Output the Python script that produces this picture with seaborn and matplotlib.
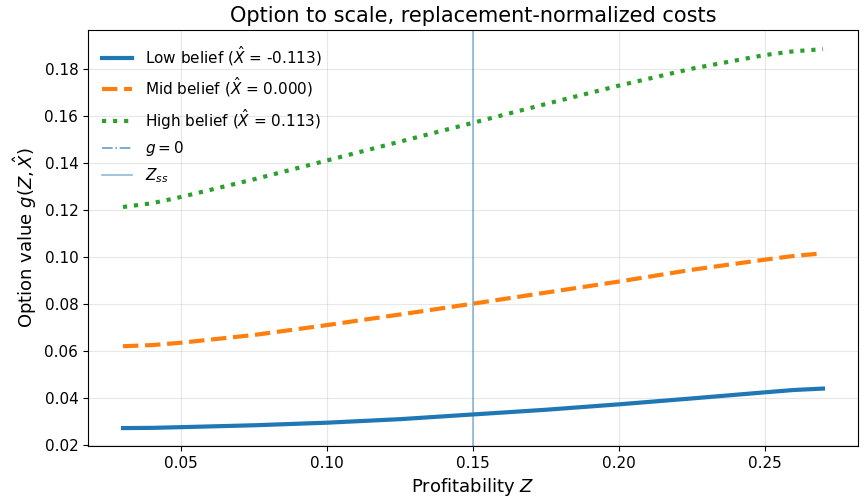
import matplotlib
matplotlib.use("Agg")
import matplotlib.pyplot as plt
import numpy as np
import pandas as pd
import seaborn as sns

# profitability grid
z = [0.03, 0.04, 0.05, 0.075, 0.10, 0.125, 0.15, 0.175, 0.20, 0.225, 0.25, 0.26, 0.27]
# option value for each belief
g_low = [0.0272, 0.0273, 0.0276, 0.0284, 0.0295, 0.0310, 0.0330, 0.0350, 0.0373, 0.0398, 0.0424, 0.0434, 0.0440]
g_mid = [0.0620, 0.0625, 0.0635, 0.0668, 0.0710, 0.0755, 0.0801, 0.0848, 0.0895, 0.0945, 0.0988, 0.1004, 0.1015]
g_high = [0.1212, 0.1228, 0.1255, 0.1330, 0.1410, 0.1490, 0.1570, 0.1650, 0.1728, 0.1800, 0.1858, 0.1874, 0.1883]
labels = [r"Low belief ($\hat{X}$ = -0.113)",
          r"Mid belief ($\hat{X}$ = 0.000)",
          r"High belief ($\hat{X}$ = 0.113)"]
z_ss = 0.15

plt.rcParams['font.family'] = ['DejaVu Sans']
plt.rcParams['xtick.labelsize'] = 11
plt.rcParams['ytick.labelsize'] = 11

fig, ax = plt.subplots(figsize=(8.67, 4.98), dpi=100)

styles = ["-", "--", ":"]
cols = ["#1f77b4", "#ff7f0e", "#2ca02c"]
for vals, lab, ls, c in zip([g_low, g_mid, g_high], labels, styles, cols):
    df = pd.DataFrame({"Z": z, "g": vals})
    sns.lineplot(data=df, x="Z", y="g", ax=ax, color=c, linestyle=ls, linewidth=3, label=lab)

ax.axhline(0, color="#1f77b4", linestyle="-.", linewidth=1.2, alpha=0.7, label=r"$g = 0$")
ax.axvline(z_ss, color="#1f77b4", linestyle="-", linewidth=1.2, alpha=0.5, label=r"$Z_{ss}$")

ax.set_xlim(0.018, 0.282)
ax.set_ylim(0.0195, 0.1965)
ax.grid(True, alpha=0.3)
ax.set_title("Option to scale, replacement-normalized costs", fontsize=15)
ax.set_xlabel(r"Profitability $Z$", fontsize=13)
ax.set_ylabel(r"Option value $g(Z,\hat{X})$", fontsize=13)
ax.legend(loc="upper left", frameon=False, fontsize=11)

fig.subplots_adjust(left=0.1015, right=0.9896, top=0.94, bottom=0.104)
plt.savefig("out.png", dpi=100)
